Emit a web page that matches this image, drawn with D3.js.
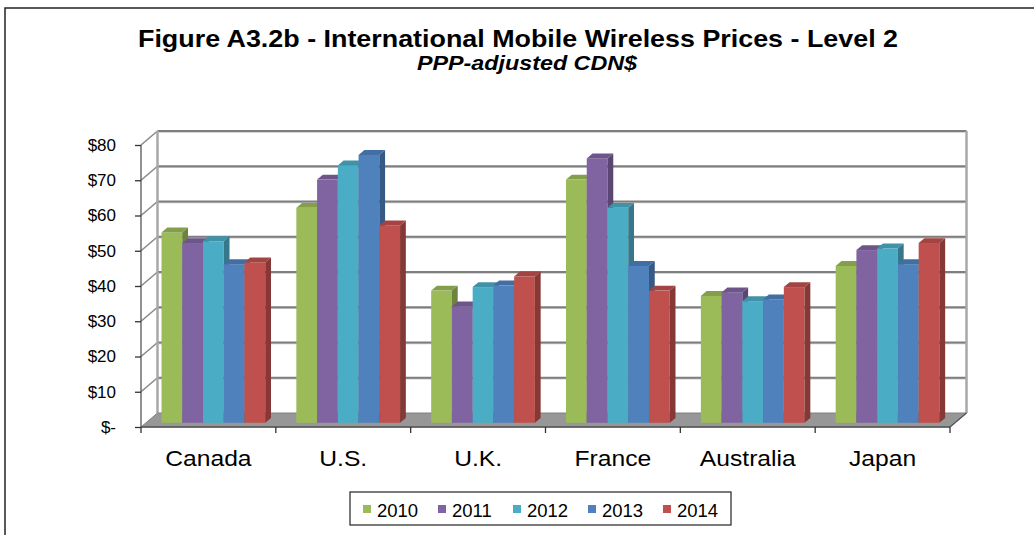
<!DOCTYPE html>
<html>
<head>
<meta charset="utf-8">
<script src="https://cdn.jsdelivr.net/npm/d3@7/dist/d3.min.js"></script>
<style>
  html, body { margin: 0; padding: 0; background: #fff; }
  svg { display: block; font-family: "Liberation Sans", Arial, sans-serif; }
</style>
</head>
<body>
<svg id="chart" width="1034" height="535"></svg>
<script>
// ---- data ----
const categories = ["Canada", "U.S.", "U.K.", "France", "Australia", "Japan"];
const years = ["2010", "2011", "2012", "2013", "2014"];
const values2010 = [54, 61, 37.5, 69, 36, 44.5];
const values2011 = [51, 69, 33, 75, 37, 49];
const values2012 = [51.5, 73, 38.5, 61, 34.5, 49.5];
const values2013 = [45, 76, 39, 44.5, 35, 45];
const values2014 = [45.5, 56, 41.5, 37.5, 38.5, 51];
const yTickValues = [0, 10, 20, 30, 40, 50, 60, 70, 80];
const yTickLabels = ["$-", "$10", "$20", "$30", "$40", "$50", "$60", "$70", "$80"];
const seriesColors = ["#9BBB59", "#8064A2", "#4BACC6", "#4F81BD", "#C0504D"];
const titleText = "Figure A3.2b - International Mobile Wireless Prices - Level 2";
const subtitleText = "PPP-adjusted CDN$";

const seriesValues = [values2010, values2011, values2012, values2013, values2014];

// ---- layout ----
const svg = d3.select("#chart");
const X0 = 141, X1 = 950;          // front plane horizontal extent
const DX = 16.5, DY = -14;         // depth offset (front -> back)
const BAR_F = 0.3, BAR_B = 0.65;   // bar depth fractions

const y = d3.scaleLinear().domain([0, 80]).range([427, 145]);
const x = d3.scaleBand().domain(categories).range([X0, X1]).paddingInner(0).paddingOuter(0);
const xi = d3.scaleBand().domain(years).range([0, x.bandwidth()]).paddingInner(0).paddingOuter(0.75);

// outer border (only left/top visible)
svg.append("path").attr("d", "M5,535 L5,8 L1034,8")
  .attr("fill", "none").attr("stroke", "#222").attr("stroke-width", 1.5);

// title
svg.append("text").attr("x", 518).attr("y", 47).attr("text-anchor", "middle")
  .attr("font-size", 24).attr("font-weight", "bold").attr("fill", "#000")
  .attr("textLength", 760).attr("lengthAdjust", "spacingAndGlyphs").text(titleText);
svg.append("text").attr("x", 527).attr("y", 70).attr("text-anchor", "middle")
  .attr("font-size", 19.5).attr("font-weight", "bold").attr("font-style", "italic").attr("fill", "#000")
  .attr("textLength", 220).attr("lengthAdjust", "spacingAndGlyphs").text(subtitleText);

const g = svg.append("g");
const yBottom = y(0), yTop = y(80);

// back wall
g.append("rect").attr("x", X0 + DX).attr("y", yTop + DY).attr("width", X1 - X0).attr("height", yBottom - yTop)
  .attr("fill", "#fff");
// side wall
g.append("path")
  .attr("d", `M${X0},${yBottom} L${X0},${yTop} L${X0 + DX},${yTop + DY} L${X0 + DX},${yBottom + DY} Z`)
  .attr("fill", "#fff");

// gridlines on back wall and side wall
yTickValues.filter(v => v > 0).forEach(v => {
  g.append("line").attr("x1", X0 + DX).attr("x2", X1 + DX)
    .attr("y1", y(v) + DY + 1).attr("y2", y(v) + DY + 1)
    .attr("stroke", "#c8c8c8").attr("stroke-width", 1.5);
  g.append("line").attr("x1", X0 + DX).attr("x2", X1 + DX)
    .attr("y1", y(v) + DY).attr("y2", y(v) + DY)
    .attr("stroke", "#7e7e7e").attr("stroke-width", 1.8);
  g.append("line").attr("x1", X0).attr("x2", X0 + DX)
    .attr("y1", y(v)).attr("y2", y(v) + DY)
    .attr("stroke", "#8a8a8a").attr("stroke-width", 1.6);
});
// back wall vertical edges
[X0 + DX, X1 + DX].forEach(xx => {
  g.append("line").attr("x1", xx).attr("x2", xx).attr("y1", yTop + DY).attr("y2", yBottom + DY)
    .attr("stroke", "#a8a8a8").attr("stroke-width", 2.5);
});

// floor
g.append("path")
  .attr("d", `M${X0},${yBottom} L${X1},${yBottom} L${X1 + DX},${yBottom + DY} L${X0 + DX},${yBottom + DY} Z`)
  .attr("fill", "#979797").attr("stroke", "#808080").attr("stroke-width", 1);

// bars
categories.forEach((c, ci) => {
  years.forEach((yr, si) => {
    const v = seriesValues[si][ci];
    const base = d3.color(seriesColors[si]);
    const fx = x(c) + xi(yr) + DX * BAR_F;
    const w = xi.bandwidth();
    const fy0 = y(0) + DY * BAR_F;
    const fyT = y(v) + DY * BAR_F;
    const ddx = DX * (BAR_B - BAR_F), ddy = DY * (BAR_B - BAR_F);
    // front
    g.append("rect").attr("x", fx).attr("y", fyT).attr("width", w).attr("height", fy0 - fyT)
      .attr("fill", base.formatHex());
    // top
    g.append("path")
      .attr("d", `M${fx},${fyT} L${fx + w},${fyT} L${fx + w + ddx},${fyT + ddy} L${fx + ddx},${fyT + ddy} Z`)
      .attr("fill", base.darker(0.45).formatHex());
    // side
    g.append("path")
      .attr("d", `M${fx + w},${fyT} L${fx + w + ddx},${fyT + ddy} L${fx + w + ddx},${fy0 + ddy} L${fx + w},${fy0} Z`)
      .attr("fill", base.darker(1.0).formatHex());
  });
});

// value axis
g.append("line").attr("x1", X0).attr("x2", X0).attr("y1", yTop).attr("y2", yBottom)
  .attr("stroke", "#555").attr("stroke-width", 1.3);
const yAxis = d3.axisLeft(y).tickValues(yTickValues).tickSize(6)
  .tickFormat((d, i) => yTickLabels[i]);
const ya = svg.append("g").attr("transform", `translate(${X0},0)`).call(yAxis);
ya.select(".domain").remove();
ya.selectAll(".tick line").attr("stroke", "#333").attr("stroke-width", 1.3);
ya.selectAll(".tick text").attr("x", -25).attr("font-size", 17)
  .attr("font-family", "Liberation Sans, Arial, sans-serif").attr("fill", "#000");

// category axis
g.append("line").attr("x1", X0).attr("x2", X1).attr("y1", yBottom).attr("y2", yBottom)
  .attr("stroke", "#555").attr("stroke-width", 1.3);
g.append("line").attr("x1", X1).attr("x2", X1 + DX).attr("y1", yBottom).attr("y2", yBottom + DY)
  .attr("stroke", "#555").attr("stroke-width", 1.2);
const xAxis = d3.axisBottom(x).tickSize(0).tickPadding(23);
const xa = svg.append("g").attr("transform", `translate(0,${yBottom})`).call(xAxis);
xa.select(".domain").remove();
xa.selectAll(".tick text").attr("font-size", 22)
  .attr("font-family", "Liberation Sans, Arial, sans-serif").attr("fill", "#000")
  .each(function () {
    const len = this.getComputedTextLength();
    d3.select(this).attr("textLength", len * 1.12).attr("lengthAdjust", "spacingAndGlyphs");
  });
// boundary ticks
const bounds = categories.map(c => x(c)).concat([X1]);
g.selectAll(".btick").data(bounds).enter().append("line")
  .attr("x1", d => d).attr("x2", d => d).attr("y1", yBottom).attr("y2", yBottom + 6)
  .attr("stroke", "#333").attr("stroke-width", 1.3);

// legend
const lg = svg.append("g");
lg.append("rect").attr("x", 350).attr("y", 492).attr("width", 381).attr("height", 33)
  .attr("fill", "#fff").attr("stroke", "#222").attr("stroke-width", 1.2);
const lx = d3.scalePoint().domain(years).range([363, 663]);
years.forEach((yr, i) => {
  lg.append("rect").attr("x", lx(yr)).attr("y", 505).attr("width", 8).attr("height", 8)
    .attr("fill", seriesColors[i]);
  lg.append("text").attr("x", lx(yr) + 14).attr("y", 516.5).attr("font-size", 18.5)
    .attr("fill", "#000").text(yr);
});
</script>
</body>
</html>
